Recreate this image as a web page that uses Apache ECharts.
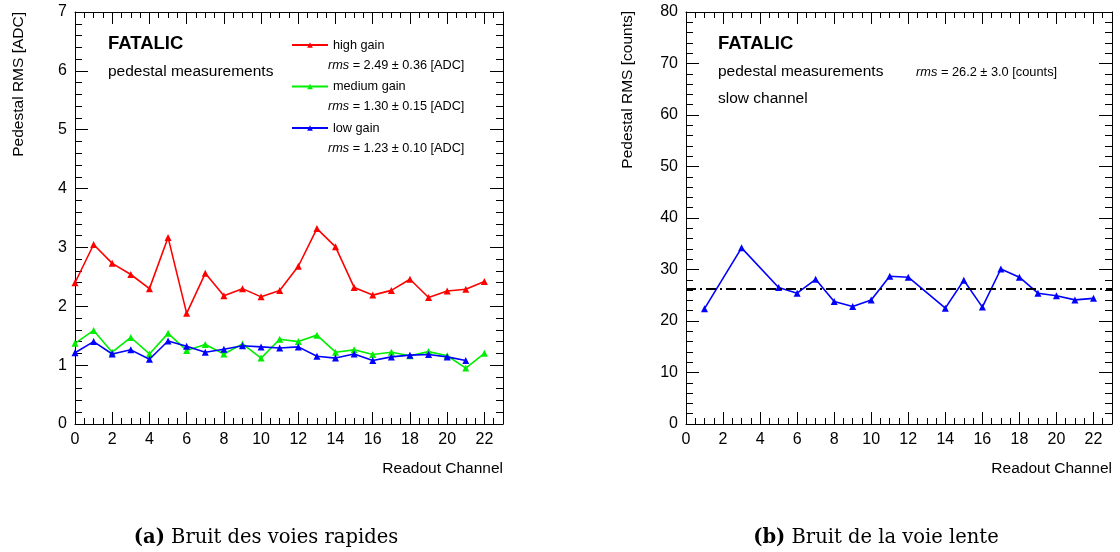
<!DOCTYPE html>
<html>
<head>
<meta charset="utf-8">
<script src="https://cdn.jsdelivr.net/npm/echarts@6/dist/echarts.min.js"></script>
<style>html,body{margin:0;padding:0;background:#fff}#c{width:1120px;height:552px}</style>
</head>
<body>
<div id="c"></div>
<script>
// ---- data ----
const channels = [0,1,2,3,4,5,6,7,8,9,10,11,12,13,14,15,16,17,18,19,20,21,22];
const highGain   = [2.40,3.05,2.73,2.54,2.30,3.17,1.88,2.56,2.18,2.30,2.16,2.27,2.68,3.32,3.01,2.32,2.19,2.27,2.46,2.15,2.26,2.29,2.42];
const mediumGain = [1.37,1.59,1.22,1.47,1.19,1.54,1.25,1.35,1.19,1.36,1.12,1.44,1.40,1.51,1.22,1.26,1.18,1.22,1.16,1.23,1.16,0.95,1.20];
const lowGain    = [1.21,1.40,1.19,1.26,1.10,1.41,1.32,1.22,1.27,1.33,1.31,1.29,1.31,1.15,1.12,1.19,1.08,1.14,1.17,1.18,1.14,1.08];
const slowChannels = [1,3,5,6,7,8,9,10,11,12,14,15,16,17,18,19,20,21,22];
const slowNoise    = [22.4,34.2,26.5,25.4,28.1,23.8,22.8,24.1,28.7,28.5,22.5,27.9,22.7,30.1,28.5,25.4,24.9,24.1,24.4];
const slowMean = 26.2;
const seriesNames = ['high gain','medium gain','low gain'];
const seriesRms = ['2.49 \u00b1 0.36 [ADC]','1.30 \u00b1 0.15 [ADC]','1.23 \u00b1 0.10 [ADC]'];
const slowRms = '26.2 \u00b1 3.0 [counts]';
const leftYTicks = [0,7,1];
const rightYTicks = [0,80,10];
const xTicks = [0,23,2];

const FONT = 'Liberation Sans';
const pairs = (xs, ys) => ys.map((v,i)=>[xs[i], v]);

function xAxis(grid, pos){
  return {
    type:'value', gridIndex:grid, position:pos, min:xTicks[0], max:xTicks[1], interval:xTicks[2],
    axisLine:{show:true, onZero:false, lineStyle:{color:'#000', width:1}},
    axisTick:{show:true, inside:true, length:12, lineStyle:{color:'#000'}},
    minorTick:{show:true, splitNumber:4, length:6, lineStyle:{color:'#000'}},
    axisLabel:{show:pos==='bottom', color:'#000', fontFamily:FONT, fontSize:16, margin:8,
      formatter:v=> (v%2===0 && v<=22) ? String(v) : ''},
    splitLine:{show:false}
  };
}
function yAxis(grid, pos, t){
  return {
    type:'value', gridIndex:grid, position:pos, min:t[0], max:t[1], interval:t[2],
    axisLine:{show:true, onZero:false, lineStyle:{color:'#000', width:1}},
    axisTick:{show:true, inside:true, length:13, lineStyle:{color:'#000'}},
    minorTick:{show:true, splitNumber:5, length:7, lineStyle:{color:'#000'}},
    axisLabel:{show:pos==='left', color:'#000', fontFamily:FONT, fontSize:16, margin:8},
    splitLine:{show:false}
  };
}
const colors = ['#ff0000','#00ee00','#0000ff'];
const fastData = [highGain, mediumGain, lowGain];

const series = fastData.map((d,i)=>({
  name: seriesNames[i], type:'line', xAxisIndex:0, yAxisIndex:0,
  data: pairs(channels, d), symbol:'triangle', symbolSize:7,
  lineStyle:{color:colors[i], width:1.6}, itemStyle:{color:colors[i]},
  animation:false, z:3+i
}));
series.push({
  name:'slow', type:'line', xAxisIndex:2, yAxisIndex:2,
  data: pairs(slowChannels, slowNoise), symbol:'triangle', symbolSize:7,
  lineStyle:{color:'#0000ff', width:1.6}, itemStyle:{color:'#0000ff'}, animation:false,
  markLine:{silent:true, symbol:'none', label:{show:false},
    lineStyle:{color:'#000', width:2, type:[10,4,2,4]},
    data:[{yAxis:slowMean}]}
});

const txt = (x,y,text,opt) => ({type:'text', x, y, style:Object.assign({text, fill:'#000', fontFamily:FONT, fontSize:15.5, verticalAlign:'middle'}, opt||{})});
const rich = (fs) => ({i:{fontStyle:'italic', fontSize:fs, fontFamily:FONT}});
const capRich = {b:{fontWeight:'bold', fontFamily:'DejaVu Serif', fontSize:19.5}};
const graphics = [
  txt(108,44,'FATALIC',{fontWeight:'bold', fontSize:18.5}),
  txt(108,72,'pedestal measurements'),
  txt(718,44,'FATALIC',{fontWeight:'bold', fontSize:18.5}),
  txt(718,72,'pedestal measurements'),
  txt(718,99,'slow channel'),
  txt(916,72,'{i|rms} = '+slowRms,{fontSize:12.8, rich:rich(12.8)}),
  {type:'text', x:19, y:12, rotation:Math.PI/2, style:{text:'Pedestal RMS [ADC]', fill:'#000', fontFamily:FONT, fontSize:15.5, align:'right', verticalAlign:'middle'}},
  {type:'text', x:628, y:11, rotation:Math.PI/2, style:{text:'Pedestal RMS [counts]', fill:'#000', fontFamily:FONT, fontSize:15.5, align:'right', verticalAlign:'middle'}},
  txt(503,469,'Readout Channel',{align:'right'}),
  txt(1112,469,'Readout Channel',{align:'right'}),
  txt(266,538,'{b|(a)} Bruit des voies rapides',{align:'center', fontFamily:'DejaVu Serif', fontSize:19.5, rich:capRich}),
  txt(876,538,'{b|(b)} Bruit de la voie lente',{align:'center', fontFamily:'DejaVu Serif', fontSize:19.5, rich:capRich})
];
seriesRms.forEach((r,i)=>{
  graphics.push(txt(328, 65+i*41.5, '{i|rms} = '+r, {fontSize:12.7, rich:rich(12.7)}));
});

const chart = echarts.init(document.getElementById('c'), null, {renderer:'canvas'});
chart.setOption({
  animation:false,
  backgroundColor:'#fff',
  grid:[
    {left:75, top:12, width:428, height:412, containLabel:false},
    {left:686, top:12, width:426, height:412, containLabel:false}
  ],
  xAxis:[xAxis(0,'bottom'), xAxis(0,'top'), xAxis(1,'bottom'), xAxis(1,'top')],
  yAxis:[yAxis(0,'left',leftYTicks), yAxis(0,'right',leftYTicks), yAxis(1,'left',rightYTicks), yAxis(1,'right',rightYTicks)],
  legend:{
    data:seriesNames, orient:'vertical', left:286, top:33, itemWidth:36, itemHeight:7, itemGap:27.5,
    textStyle:{fontFamily:FONT, fontSize:12.7, color:'#000', lineHeight:14}, selectedMode:false
  },
  series,
  graphic:graphics
});
</script>
</body>
</html>
